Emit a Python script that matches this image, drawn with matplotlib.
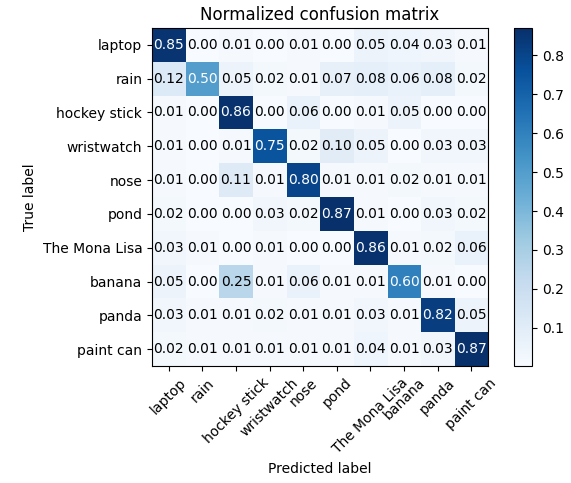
import numpy as np
import matplotlib
matplotlib.use("Agg")
import matplotlib.pyplot as plt

classes = ["laptop", "rain", "hockey stick", "wristwatch", "nose", "pond",
           "The Mona Lisa", "banana", "panda", "paint can"]

row_laptop = [0.85, 0.00, 0.01, 0.00, 0.01, 0.00, 0.05, 0.04, 0.03, 0.01]
row_rain = [0.12, 0.50, 0.05, 0.02, 0.01, 0.07, 0.08, 0.06, 0.08, 0.02]
row_hockey = [0.01, 0.00, 0.86, 0.00, 0.06, 0.00, 0.01, 0.05, 0.00, 0.00]
row_watch = [0.01, 0.00, 0.01, 0.75, 0.02, 0.10, 0.05, 0.00, 0.03, 0.03]
row_nose = [0.01, 0.00, 0.11, 0.01, 0.80, 0.01, 0.01, 0.02, 0.01, 0.01]
row_pond = [0.02, 0.00, 0.00, 0.03, 0.02, 0.87, 0.01, 0.00, 0.03, 0.02]
row_mona = [0.03, 0.01, 0.00, 0.01, 0.00, 0.00, 0.86, 0.01, 0.02, 0.06]
row_banana = [0.05, 0.00, 0.25, 0.01, 0.06, 0.01, 0.01, 0.60, 0.01, 0.00]
row_panda = [0.03, 0.01, 0.01, 0.02, 0.01, 0.01, 0.03, 0.01, 0.82, 0.05]
row_paint = [0.02, 0.01, 0.01, 0.01, 0.01, 0.01, 0.04, 0.01, 0.03, 0.87]

# colour scale limits (underlying minimum is a tiny
# positive value that rounds to 0.00, so no 0.0 tick is shown)
color_min = 0.002
color_max = 0.87

cm = np.array([row_laptop, row_rain, row_hockey, row_watch, row_nose,
               row_pond, row_mona, row_banana, row_panda, row_paint])

fig = plt.figure(figsize=(5.71, 4.83), dpi=100)
ax = fig.add_axes([152 / 571, 1 - 366 / 483, 336 / 571, 338 / 483])
cax = fig.add_axes([514 / 571, 1 - 366 / 483, 18 / 571, 338 / 483])

im = ax.imshow(cm, interpolation="nearest", cmap=plt.cm.Blues, aspect="auto",
               vmin=color_min, vmax=color_max)
ax.set_title("Normalized confusion matrix", fontsize=12)
fig.colorbar(im, cax=cax)

ticks = np.arange(len(classes))
ax.set_xticks(ticks)
ax.set_xticklabels(classes, rotation=45)
ax.set_yticks(ticks)
ax.set_yticklabels(classes)

thresh = cm.max() / 2.0
for i in range(cm.shape[0]):
    for j in range(cm.shape[1]):
        ax.text(j, i, format(cm[i, j], ".2f"), ha="center", va="center",
                fontsize=10,
                color="white" if cm[i, j] > thresh else "black")

ax.set_ylabel("True label")
ax.set_xlabel("Predicted label")

fig.savefig("out.png", dpi=100)
